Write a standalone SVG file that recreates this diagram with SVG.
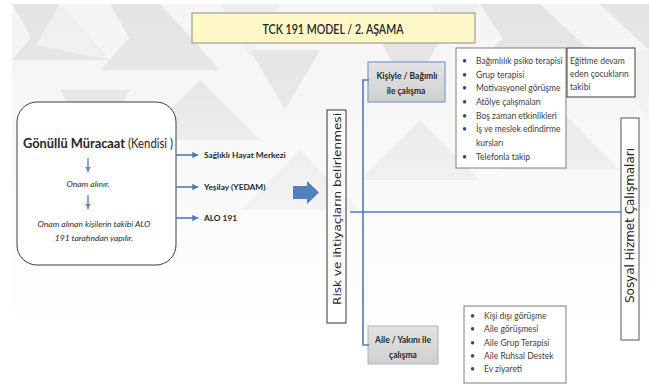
<svg xmlns="http://www.w3.org/2000/svg" width="649" height="385" viewBox="0 0 649 385">
<defs>
<style>
.t{font-family:Lato,"Liberation Sans",sans-serif;fill:#262626}
.b{font-weight:bold}
.it{font-style:italic;font-size:8.5px;fill:#2b2b2b}
.li{font-size:8.5px;fill:#404040}
.vt{font-family:"DejaVu Sans",sans-serif;fill:#262626}
.blue{stroke:#4a7ebb;stroke-width:1.6;fill:none}
</style>
<marker id="ah" viewBox="0 0 10 10" refX="9" refY="5" markerWidth="4" markerHeight="4" orient="auto"><path d="M0,0 L10,5 L0,10 z" fill="#4a7ebb"/></marker>
<marker id="ahg" viewBox="0 0 10 10" refX="9" refY="5" markerWidth="4" markerHeight="4" orient="auto"><path d="M0,0 L10,5 L0,10 z" fill="#6f8db3"/></marker>
<linearGradient id="fade" x1="0" y1="0" x2="0" y2="1"><stop offset="0" stop-color="#fff" stop-opacity="0"/><stop offset="0.2" stop-color="#fff" stop-opacity="0.1"/><stop offset="0.85" stop-color="#fff" stop-opacity="1"/></linearGradient>
<linearGradient id="gbox" x1="0" y1="0" x2="0" y2="1"><stop offset="0" stop-color="#e3e3e3"/><stop offset="1" stop-color="#d0d0d0"/></linearGradient>
</defs>
<g id="background">
<rect x="0" y="0" width="649" height="385" fill="#fff"/>
<rect x="12" y="4" width="637" height="381" fill="#f5f5f5"/>
<g fill="#e4e4e4">
<polygon points="12,4 60,4 36,45"/>
<polygon points="60,4 110,60 12,60"/>
<polygon points="110,4 160,4 135,48"/>
<polygon points="160,4 220,70 100,70"/>
<polygon points="480,4 540,4 510,50"/>
<polygon points="540,4 600,60 480,60"/>
<polygon points="600,4 649,4 649,50"/>
<polygon points="250,50 320,50 285,110"/>
<polygon points="380,40 440,40 410,95"/>
<polygon points="60,90 130,90 95,150"/>
<polygon points="200,80 260,140 140,140"/>
<polygon points="420,120 480,180 360,180"/>
<polygon points="560,110 620,170 500,170"/>
<polygon points="300,150 360,210 240,210"/>
</g>
<g fill="#efefef">
<polygon points="36,45 110,60 60,4"/>
<polygon points="220,4 280,4 250,55"/>
<polygon points="430,4 480,4 455,45"/>
<polygon points="600,60 649,50 649,120"/>
</g>
<rect x="12" y="4" width="637" height="381" fill="url(#fade)"/>
</g>
<g id="title">
<rect x="192" y="13" width="283" height="30" fill="#fdf8c6" stroke="#8c8c8c" stroke-width="1"/>
<text class="t" x="333" y="34" text-anchor="middle" font-size="14" textLength="141" lengthAdjust="spacingAndGlyphs" style="font-weight:600">TCK 191 MODEL / 2. AŞAMA</text>
</g>
<g id="gonullu">
<rect x="17" y="102" width="159" height="163" rx="20" ry="20" fill="#fff" stroke="#3f3f3f" stroke-width="1"/>
<text class="t b" x="23" y="148" font-size="12.5" textLength="102" lengthAdjust="spacingAndGlyphs">Gönüllü Müracaat</text>
<text class="t" x="128" y="148" font-size="12.5" fill="#333" textLength="45" lengthAdjust="spacingAndGlyphs">(Kendisi )</text>
<text class="t it" x="88" y="187" text-anchor="middle">Onam alınır.</text>
<text class="t it" x="94" y="227" text-anchor="middle">Onam alınan kişilerin takibi ALO</text>
<text class="t it" x="94" y="241" text-anchor="middle">191 tarafından yapılır.</text>
</g>
<g id="labels">
<text class="t b" x="204" y="158" font-size="8.3">Sağlıklı Hayat Merkezi</text>
<text class="t b" x="204" y="190" font-size="8.3">Yeşilay (YEDAM)</text>
<text class="t b" x="204" y="221" font-size="8.3">ALO 191</text>
</g>
<g id="risk">
<rect x="327" y="110" width="19" height="213" fill="#fff" stroke="#333" stroke-width="1"/>
<text class="vt" transform="translate(340.5,209) rotate(-90)" text-anchor="middle" font-size="11" textLength="192" lengthAdjust="spacingAndGlyphs">Risk ve ihtiyaçların belirlenmesi</text>
</g>
<g id="kisiyle">
<rect x="368" y="62" width="77" height="40" fill="url(#gbox)" stroke="#7d9bcf" stroke-width="1.2"/>
<text class="t b" x="407" y="79" text-anchor="middle" font-size="8.5">Kişiyle / Bağımlı</text>
<text class="t b" x="406" y="94" text-anchor="middle" font-size="8.5">ile çalışma</text>
</g>
<g id="aile">
<rect x="368" y="326" width="70" height="38" fill="url(#gbox)" stroke="#b0b0b0" stroke-width="1"/>
<text class="t b" x="403" y="343" text-anchor="middle" font-size="8.5">Aile / Yakını ile</text>
<text class="t b" x="403" y="358" text-anchor="middle" font-size="8.5">çalışma</text>
</g>
<g id="list1">
<rect x="456" y="48" width="110" height="120" fill="#fff" stroke="#7f7f7f" stroke-width="1"/>
<g class="t li">
<text x="462" y="64">•</text><text x="476" y="64">Bağımlılık psiko terapisi</text>
<text x="462" y="78">•</text><text x="476" y="78">Grup terapisi</text>
<text x="462" y="91">•</text><text x="476" y="91">Motivasyonel görüşme</text>
<text x="462" y="105">•</text><text x="476" y="105">Atölye çalışmaları</text>
<text x="462" y="119">•</text><text x="476" y="119">Boş zaman etkinlikleri</text>
<text x="462" y="132">•</text><text x="476" y="132">İş ve meslek edindirme</text>
<text x="476" y="146">kursları</text>
<text x="462" y="160">•</text><text x="476" y="160">Telefonla takip</text>
</g>
</g>
<g id="egitime">
<rect x="567" y="48" width="68" height="49" fill="#fff" stroke="#404040" stroke-width="1"/>
<g class="t li">
<text x="570" y="64">Eğitime devam</text>
<text x="570" y="77">eden çocukların</text>
<text x="570" y="90">takibi</text>
</g>
</g>
<g id="sosyal">
<rect x="621" y="118" width="18" height="222" fill="#fff" stroke="#555" stroke-width="1"/>
<text class="vt" transform="translate(634,225.5) rotate(-90)" text-anchor="middle" font-size="11.5" textLength="155" lengthAdjust="spacingAndGlyphs">Sosyal Hizmet Çalışmaları</text>
</g>
<g id="list2">
<rect x="464" y="306" width="102" height="77" fill="#fff" stroke="#7f7f7f" stroke-width="1"/>
<g class="t li">
<text x="470" y="319">•</text><text x="484" y="319">Kişi dışı görüşme</text>
<text x="470" y="332">•</text><text x="484" y="332">Aile görüşmesi</text>
<text x="470" y="346">•</text><text x="484" y="346">Aile Grup Terapisi</text>
<text x="470" y="359">•</text><text x="484" y="359">Aile Ruhsal Destek</text>
<text x="470" y="372">•</text><text x="484" y="372">Ev ziyareti</text>
</g>
</g>
<g id="connectors">
<line x1="88" y1="158" x2="88" y2="172" stroke="#6f8db3" stroke-width="1.5" marker-end="url(#ahg)"/>
<line x1="88" y1="195" x2="88" y2="209" stroke="#6f8db3" stroke-width="1.5" marker-end="url(#ahg)"/>
<line x1="176" y1="155" x2="198" y2="155" class="blue" marker-end="url(#ah)"/>
<line x1="176" y1="187" x2="198" y2="187" class="blue" marker-end="url(#ah)"/>
<line x1="176" y1="218" x2="198" y2="218" class="blue" marker-end="url(#ah)"/>
<polygon points="293,186 307,186 307,181 319,192.5 307,204 307,199 293,199" fill="#4f81bd"/>
<path d="M369,80 L363,80 L363,345 L369,345" class="blue"/>
<line x1="350" y1="212" x2="621" y2="212" class="blue"/>
</g>
</svg>
